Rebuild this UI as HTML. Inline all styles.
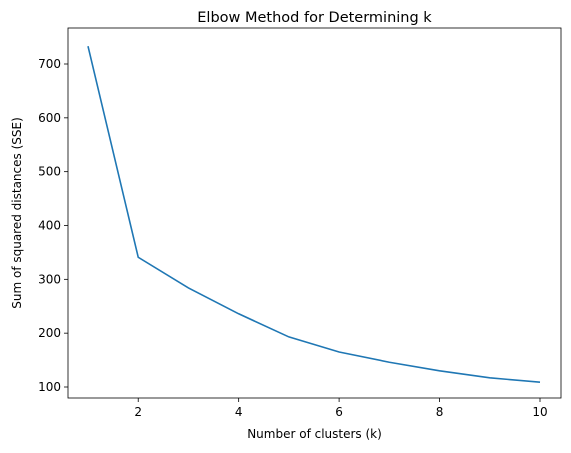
<!DOCTYPE html>
<html><head><meta charset="utf-8"><style>
html,body{margin:0;padding:0;background:#fff}
svg{display:block;font-family:"DejaVu Sans","Liberation Sans",sans-serif}
</style></head><body>
<svg id="chart" width="571" height="453"></svg>
<script>
const kValues=[1,2,3,4,5,6,7,8,9,10];
const sseValues=[733,341,284,236,193,165,146,130,117,109];
const xTicks=[2,4,6,8,10];
const yTicks=[100,200,300,400,500,600,700];
const NS="http://www.w3.org/2000/svg";
const svg=document.getElementById('chart');
const L=68,R=561,T=28,B=398;
const xs=v=>88+(v-1)*(540-88)/9;
const ys=v=>387-(v-100)*(387-64)/600;
function mk(tag,attrs,parent){const e=document.createElementNS(NS,tag);for(const k in attrs)e.setAttribute(k,attrs[k]);(parent||svg).appendChild(e);return e;}
const frame=mk('rect',{x:L,y:T,width:R-L,height:B-T,fill:'none',stroke:'#000','stroke-width':0.8});


xTicks.forEach(t=>{
  const g=mk('g',{});
  
  
  mk('line',{x1:xs(t),x2:xs(t),y1:B,y2:B+4,stroke:'#000','stroke-width':0.8},g);
  const tx=mk('text',{x:xs(t),y:B+18,'text-anchor':'middle','font-size':'12'},g);tx.textContent=t;
});
yTicks.forEach(t=>{
  const g=mk('g',{});
  
  
  mk('line',{x1:L-4,x2:L,y1:ys(t),y2:ys(t),stroke:'#000','stroke-width':0.8},g);
  const tx=mk('text',{x:L-7,y:ys(t)+4,'text-anchor':'end','font-size':'12'},g);tx.textContent=t;
});
const line=mk('polyline',{points:kValues.map((k,i)=>xs(k)+','+ys(sseValues[i])).join(' '),fill:'none',stroke:'#1f77b4','stroke-width':1.6});


const title=mk('text',{x:(L+R)/2,y:22,'text-anchor':'middle','font-size':'14.5'});title.textContent='Elbow Method for Determining k';


const xl=mk('text',{x:(L+R)/2,y:438,'text-anchor':'middle','font-size':'12'});xl.textContent='Number of clusters (k)';


const yl=mk('text',{x:0,y:0,'text-anchor':'middle','font-size':'12',transform:'translate(21,'+((T+B)/2)+') rotate(-90)'});yl.textContent='Sum of squared distances (SSE)';


</script>
</body></html>
